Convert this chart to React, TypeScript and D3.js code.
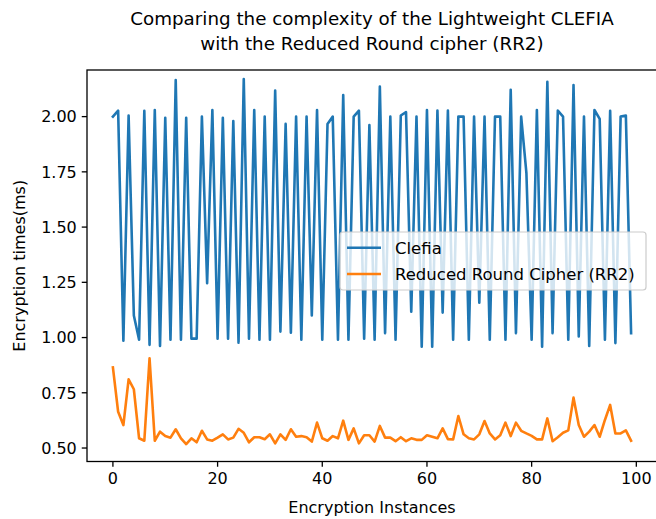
import React from "react";
import * as d3 from "d3";

const instances: number[] = Array.from({ length: 100 }, (_, i) => i);

const clefia: number[] = [
  2.0, 2.027, 0.986, 2.005, 1.1, 0.99, 2.026, 0.967, 2.03, 0.962,
  1.995, 0.99, 2.166, 0.99, 1.995, 0.995, 0.995, 2.0, 1.246, 2.03,
  0.995, 1.995, 0.995, 1.98, 0.977, 2.17, 0.995, 2.03, 0.99, 2.0,
  0.99, 2.118, 1.027, 1.967, 1.022, 2.0, 0.99, 2.0, 1.1, 2.03,
  0.99, 1.967, 2.0, 0.99, 2.098, 0.99, 2.0, 2.027, 0.995, 1.962,
  0.99, 2.136, 1.02, 2.0, 0.99, 2.005, 2.02, 1.117, 2.0, 0.959,
  2.03, 0.959, 2.027, 1.113, 2.027, 0.99, 2.0, 2.0, 0.99, 2.0,
  1.158, 2.0, 0.99, 2.0, 2.0, 0.99, 2.121, 1.02, 2.0, 1.744,
  0.99, 2.03, 0.959, 2.158, 1.02, 2.027, 2.0, 0.99, 2.143, 1.005,
  2.0, 0.962, 2.03, 1.99, 0.99, 2.026, 0.975, 2.0, 2.005, 1.02,
];

const rr2: number[] = [
  0.865, 0.664, 0.604, 0.811, 0.766, 0.544, 0.533, 0.906, 0.533, 0.574,
  0.554, 0.547, 0.585, 0.544, 0.518, 0.544, 0.526, 0.578, 0.539, 0.533,
  0.547, 0.562, 0.539, 0.547, 0.587, 0.569, 0.526, 0.549, 0.549, 0.54,
  0.562, 0.521, 0.562, 0.537, 0.585, 0.551, 0.554, 0.549, 0.529, 0.615,
  0.544, 0.533, 0.554, 0.544, 0.624, 0.537, 0.589, 0.521, 0.558, 0.558,
  0.529, 0.6, 0.547, 0.547, 0.531, 0.549, 0.531, 0.544, 0.537, 0.537,
  0.558, 0.551, 0.544, 0.589, 0.54, 0.539, 0.645, 0.562, 0.544, 0.539,
  0.562, 0.622, 0.566, 0.539, 0.558, 0.615, 0.554, 0.615, 0.578, 0.566,
  0.555, 0.539, 0.539, 0.634, 0.531, 0.549, 0.569, 0.58, 0.728, 0.604,
  0.551, 0.574, 0.604, 0.551, 0.627, 0.695, 0.566, 0.566, 0.58, 0.533,
];

const seriesNames: string[] = ["Clefia", "Reduced Round Cipher (RR2)"];
const seriesColors: string[] = ["#1f77b4", "#ff7f0e"];
const xTicks: number[] = [0, 20, 40, 60, 80, 100];
const yTicks: number[] = [0.5, 0.75, 1.0, 1.25, 1.5, 1.75, 2.0];
const yLimits: number[] = [0.439, 2.211];
const titleLines: string[] = [
  "Comparing the complexity of the Lightweight CLEFIA",
  "with the Reduced Round cipher (RR2)",
];
const xLabel = "Encryption Instances";
const yLabel = "Encryption times(ms)";

const W = 656;
const H = 519;
const FONT = "'DejaVu Sans', sans-serif";

export default function App() {
  const left = 87;
  const right = 657;
  const top = 70;
  const bottom = 461.5;

  const xMin = d3.min(instances)!;
  const xMax = d3.max(instances)!;
  const xPad = (xMax - xMin) * 0.05;

  const x = d3.scaleLinear().domain([xMin - xPad, xMax + xPad]).range([left, right]);
  const y = d3.scaleLinear().domain(yLimits).range([bottom, top]);

  const line = d3
    .line<number>()
    .x((_, i) => x(instances[i]))
    .y((d) => y(d));

  const series = [clefia, rr2];
  const tickLen = 5.25;
  const fs = 16;
  const lfs = 16.5;

  const legRight = 646;
  const legLeft = 340;
  const legTop = 232;
  const legBottom = 290;
  const rowY = [247.7, 274];

  return (
    <svg
      width={W}
      height={H}
      style={{ position: "absolute", left: 0, top: 0, background: "#fff" }}
      fontFamily={FONT}
    >
      <rect x={0} y={0} width={W} height={H} fill="#fff" />
      {titleLines.map((t, i) => (
        <text key={i} x={(left + right) / 2} y={25 + i * 24.5} textAnchor="middle" fontSize={18.3} fill="#000">
          {t}
        </text>
      ))}

      <defs>
        <clipPath id="plotclip">
          <rect x={left} y={top} width={right - left} height={bottom - top} />
        </clipPath>
      </defs>

      <g clipPath="url(#plotclip)">
        {series.map((s, k) => (
          <path
            key={k}
            d={line(s) || ""}
            fill="none"
            stroke={seriesColors[k]}
            strokeWidth={2.6}
            strokeLinejoin="round"
            strokeLinecap="square"
          />
        ))}
      </g>

      <rect x={left} y={top} width={right - left} height={bottom - top} fill="none" stroke="#000" strokeWidth={1.3} />

      {xTicks.map((t) => (
        <g key={t}>
          <line x1={x(t)} x2={x(t)} y1={bottom} y2={bottom + tickLen} stroke="#000" strokeWidth={1.3} />
          <text x={x(t)} y={bottom + tickLen + 5 + 12} textAnchor="middle" fontSize={fs} fill="#000">
            {t}
          </text>
        </g>
      ))}
      {yTicks.map((t) => (
        <g key={t}>
          <line x1={left - tickLen} x2={left} y1={y(t)} y2={y(t)} stroke="#000" strokeWidth={1.3} />
          <text x={left - tickLen - 5} y={y(t)} dy="0.36em" textAnchor="end" fontSize={fs} fill="#000">
            {t.toFixed(2)}
          </text>
        </g>
      ))}

      <text x={(left + right) / 2} y={513} textAnchor="middle" fontSize={fs} fill="#000">
        {xLabel}
      </text>
      <text
        transform={`translate(${25},${(top + bottom) / 2}) rotate(-90)`}
        textAnchor="middle"
        fontSize={fs}
        fill="#000"
      >
        {yLabel}
      </text>

      <rect
        x={legLeft}
        y={legTop}
        width={legRight - legLeft}
        height={legBottom - legTop}
        rx={3}
        fill="#fff"
        fillOpacity={0.8}
        stroke="#cccccc"
        strokeWidth={1.2}
      />
      {seriesNames.map((n, i) => (
        <g key={n}>
          <line x1={legLeft + 7} x2={legLeft + 41} y1={rowY[i]} y2={rowY[i]} stroke={seriesColors[i]} strokeWidth={2.6} />
          <text x={legLeft + 55} y={rowY[i]} dy="0.36em" fontSize={lfs} fill="#000">
            {n}
          </text>
        </g>
      ))}
    </svg>
  );
}
